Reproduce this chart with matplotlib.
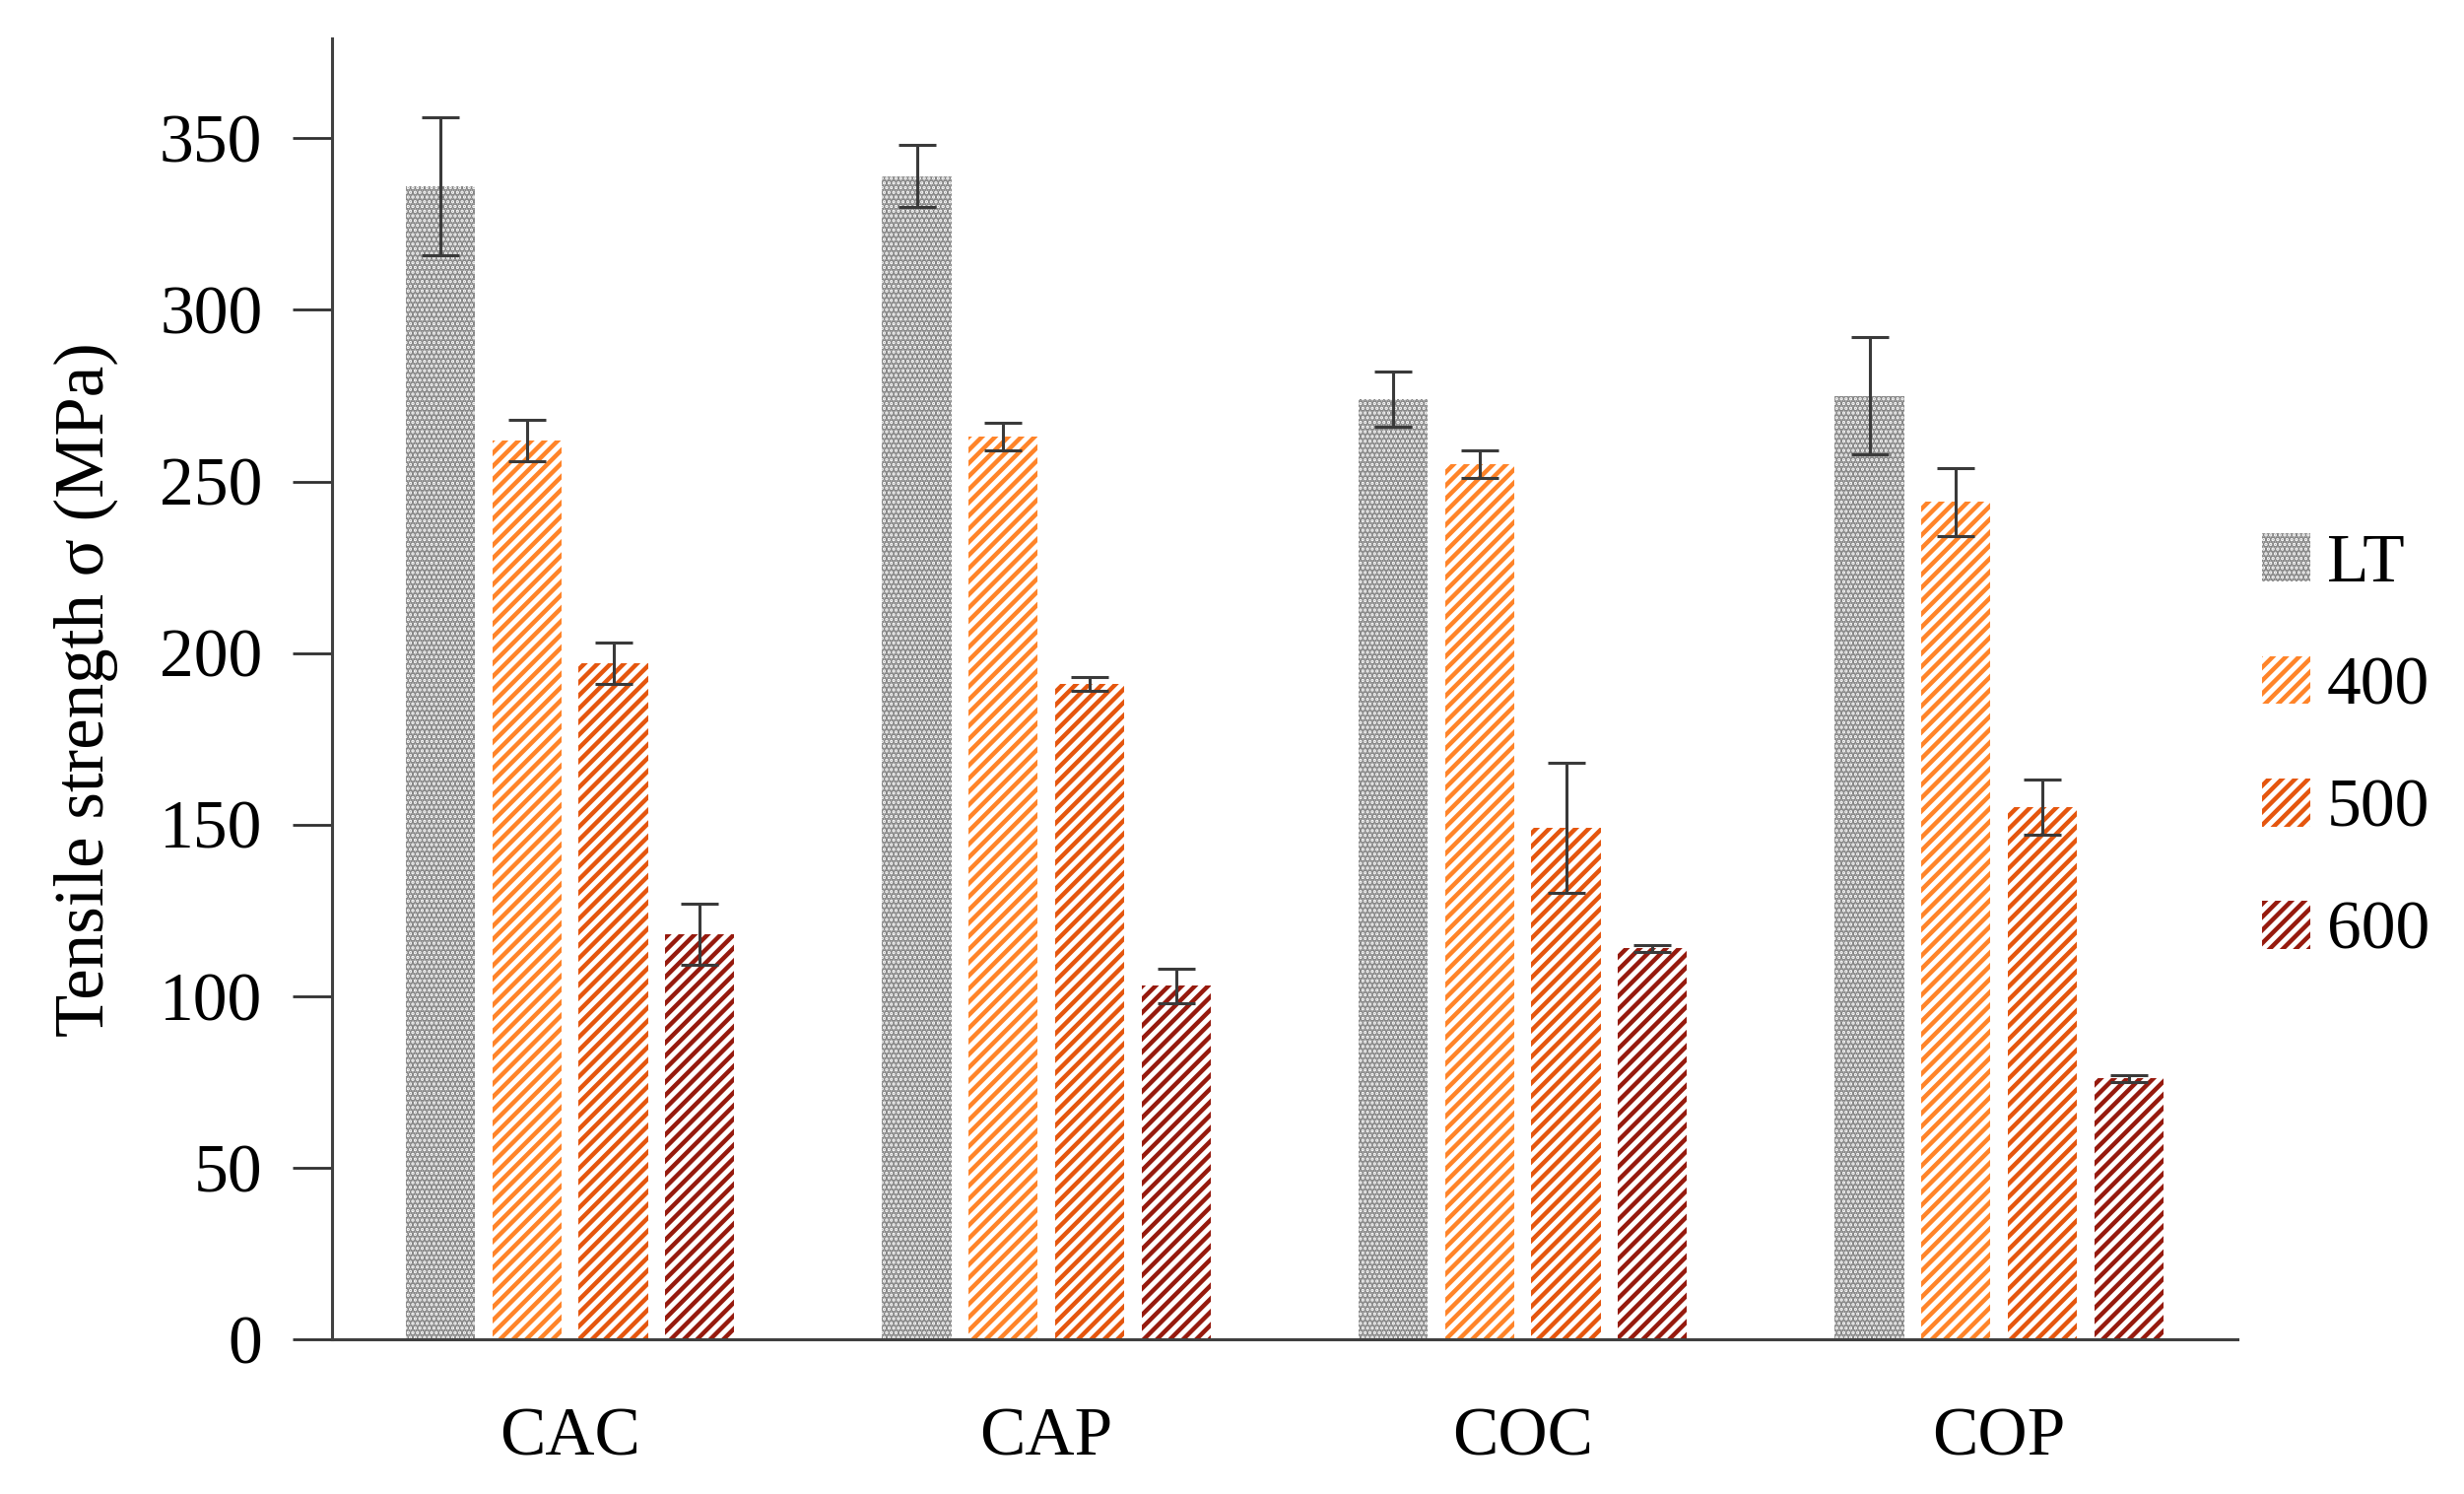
#!/usr/bin/python3

import matplotlib
matplotlib.use("Agg")
import matplotlib.pyplot as plt
from matplotlib.patches import Patch
import numpy as np

# values
samples = ["CAC", "CAP", "COC", "COP"]
series = ["LT", "400", "500", "600"]
lt_mean = [336, 339, 274, 275]
lt_err = [20, 9, 8, 17]
t400_mean = [262, 263, 255, 244]
t400_err = [6, 4, 4, 10]
t500_mean = [197, 191, 149, 155]
t500_err = [6, 2, 19, 8]
t600_mean = [118, 103, 114, 76]
t600_err = [9, 5, 1, 1]

y_ticks = [0, 50, 100, 150, 200, 250, 300, 350]

colors = ["#858585", "#ff8429", "#e5560e", "#961a0e"]
faces = ["#f4f4f4", "white", "white", "white"]
hatches = [".......", "/////", "/////", "/////"]


def main():
    """Draw the tensile strength bar chart."""

    plt.rcParams["font.family"] = ["Liberation Serif", "DejaVu Serif"]
    plt.rcParams["hatch.linewidth"] = 1.6

    fig = plt.figure(figsize=(12.505, 7.58), dpi=200)
    ax = fig.add_axes([0.1347, 0.1036, 0.908 - 0.1347, 0.974 - 0.1036])

    means = [lt_mean, t400_mean, t500_mean, t600_mean]
    errs = [lt_err, t400_err, t500_err, t600_err]
    x = np.arange(len(samples))
    step = 0.1815
    width = 0.145

    for i in range(len(series)):
        pos = x + (i - 1.5) * step
        ax.bar(pos, means[i], width, color=faces[i], edgecolor=colors[i],
               hatch=hatches[i], linewidth=0, zorder=2)
        ax.errorbar(pos, means[i], yerr=errs[i], fmt="none",
                    ecolor="#3a3a3a", elinewidth=1.1, capsize=6.8,
                    capthick=1.1, zorder=3)

    ax.set_xlim(-0.5, 3.5)
    ax.set_ylim(0, 379)
    ax.set_xticks(x)
    ax.set_xticklabels(samples)
    ax.set_yticks(y_ticks)
    ax.tick_params(axis="x", length=0, pad=25, labelsize=25)
    ax.tick_params(axis="y", length=14.4, width=1.0, pad=11,
                   labelsize=25, color="#303030")

    for side in ["top", "right"]:
        ax.spines[side].set_visible(False)
    for side in ["left", "bottom"]:
        ax.spines[side].set_color("#404040")
        ax.spines[side].set_linewidth(1.1)

    ax.set_ylabel("Tensile strength σ (MPa)", fontsize=25.5, labelpad=15)

    handles = [Patch(facecolor=faces[i], edgecolor=colors[i],
                     hatch=hatches[i], linewidth=0, label=series[i])
               for i in range(len(series))]
    fig.legend(handles=handles, loc="center left",
               bbox_to_anchor=(0.918, 0.499), frameon=False, fontsize=25,
               handlelength=0.7, handleheight=0.7, handletextpad=0.25,
               labelspacing=0.875, borderpad=0, borderaxespad=0)

    fig.savefig("out.png", dpi=200)


if __name__ == "__main__":
    main()
